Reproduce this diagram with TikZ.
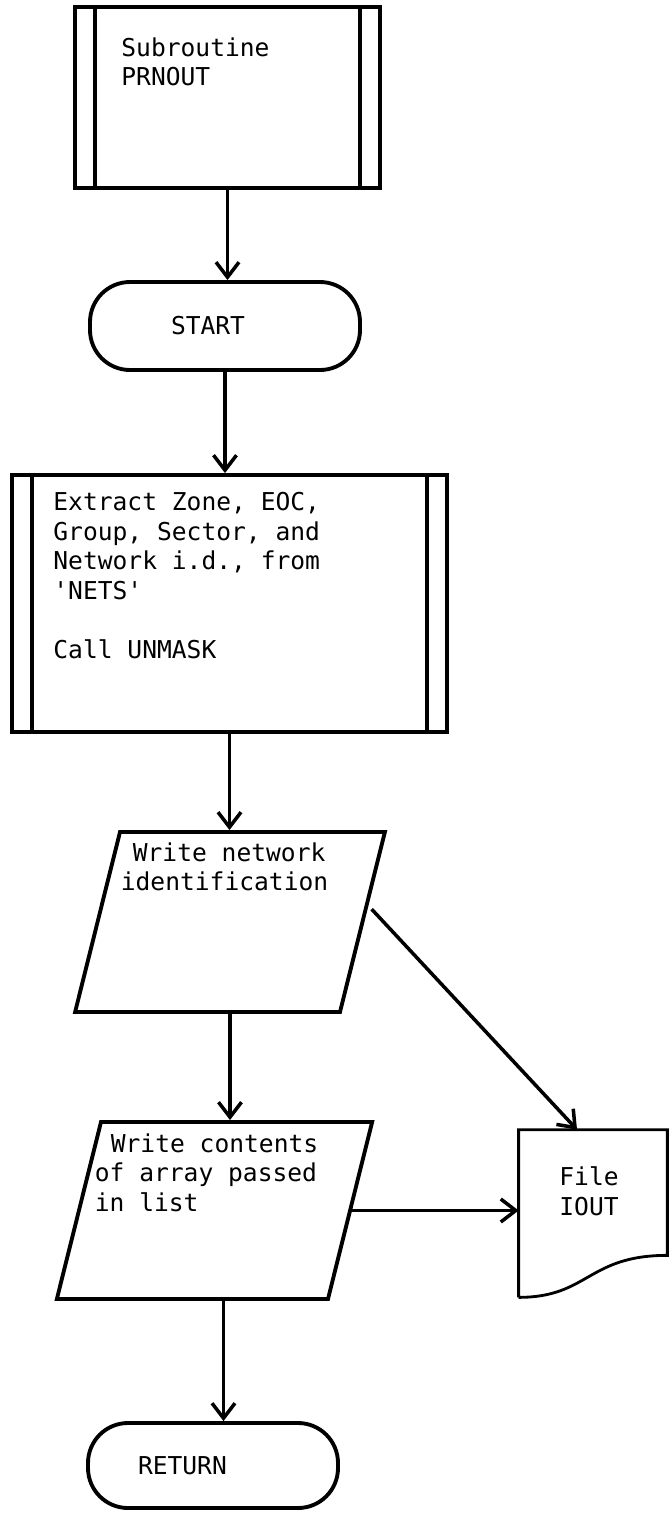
\documentclass[tikz,border=0pt]{standalone}
\usepackage{fontspec}
\setmonofont{DejaVu Sans Mono}
\usepackage{tikz}
\usetikzlibrary{arrows.meta,positioning,calc,shapes.geometric}
\tikzset{
    predef/.style={draw,line width=2.2pt,inner sep=0pt,
        path picture={
            \draw[line width=2.2pt] ([xshift=0.4cm]path picture bounding box.north west) -- ([xshift=0.4cm]path picture bounding box.south west);
            \draw[line width=2.2pt] ([xshift=-0.4cm]path picture bounding box.north east) -- ([xshift=-0.4cm]path picture bounding box.south east);
        }},
    term/.style={draw,line width=2.2pt,rounded corners=0.8cm,minimum height=1.76cm,align=left},
    iobox/.style={shape=trapezium,trapezium left angle=76,trapezium right angle=104,draw,line width=2.2pt},
    filebox/.style={minimum width=2.96cm,minimum height=3.34cm,inner sep=0pt},
    txt/.style={align=left,inner sep=0pt},
    arrow/.style={-{Straight Barb[length=3mm,width=4.6mm]},line width=2pt}
}

\begin{document}
\begin{tikzpicture}[every node/.style={font=\ttfamily\fontsize{14pt}{16.8pt}\selectfont}]
    \useasboundingbox (0,0) rectangle (13.42,-30.42);

    % subroutine header
    \node[predef,minimum width=6.1cm,minimum height=3.62cm] (sub) at (4.55,-1.95) {};
    \node[txt,below right=0.64cm and 0.96cm of sub.north west] (subtxt) {Subroutine\\PRNOUT};

    % start
    \node[term,text width=2.16cm,inner xsep=1.62cm] (start) at (4.50,-6.52) {START};

    % extract ids
    \node[predef,minimum width=8.7cm,minimum height=5.14cm] (extract) at (4.59,-12.07) {};
    \node[txt,below right=0.38cm and 0.86cm of extract.north west] (extxt) {Extract Zone, EOC,\\Group, Sector, and\\Network i.d., from\\'NETS'\\[0.59cm]Call UNMASK};

    % write blocks
    \node[iobox,inner xsep=2.20cm,inner ysep=1.8cm] (wrnet) at (4.60,-18.44) {};
    \node[txt,below right=0.24cm and 0.04cm of wrnet.top left corner] (nettxt) {\hspace*{0.24cm}Write network\\identification};
    \node[iobox,inner xsep=2.27cm,inner ysep=1.77cm] (wrlist) at (4.29,-24.21) {};
    \node[txt,below right=0.26cm and -0.1cm of wrlist.top left corner] (listtxt) {\hspace*{0.32cm}Write contents\\of array passed\\in list};

    % output file
    \node[filebox] (iout) at (11.86,-24.27) {};
    \draw[line width=1.6pt] (iout.south west) |- (iout.north east) -- ([yshift=0.84cm]iout.south east) .. controls +(-1.6,0) and +(1.4,0) .. (iout.south west);
    \node[txt,align=center,below=0.74cm of iout.north,xshift=-0.08cm] (ioutxt) {File\\IOUT};

    % return
    \node[term,text width=3.0cm,inner xsep=1.0cm,minimum height=1.7cm] (ret) at (4.26,-29.31) {RETURN};

    % flow lines
    \draw[arrow] (sub.south) -- (sub.south |- start.north);
    \draw[arrow] (start.south) -- (start.south |- extract.north);
    \draw[arrow] (extract.south) -- (extract.south |- wrnet.north);
    \draw[arrow] (wrnet.south) -- (wrnet.south |- wrlist.north);
    \draw[arrow] ([xshift=0.18cm]wrlist.south) -- ([xshift=0.18cm]wrlist.south |- ret.north);
    \coordinate (netout) at ($(wrnet.top right corner)!0.43!(wrnet.bottom right corner)+(0.08,0)$);
    \draw[arrow] (netout) -- ([xshift=-0.32cm]iout.north);
    \draw[arrow] (wrlist.east) -- (wrlist.east -| iout.west);
\end{tikzpicture}
\end{document}
